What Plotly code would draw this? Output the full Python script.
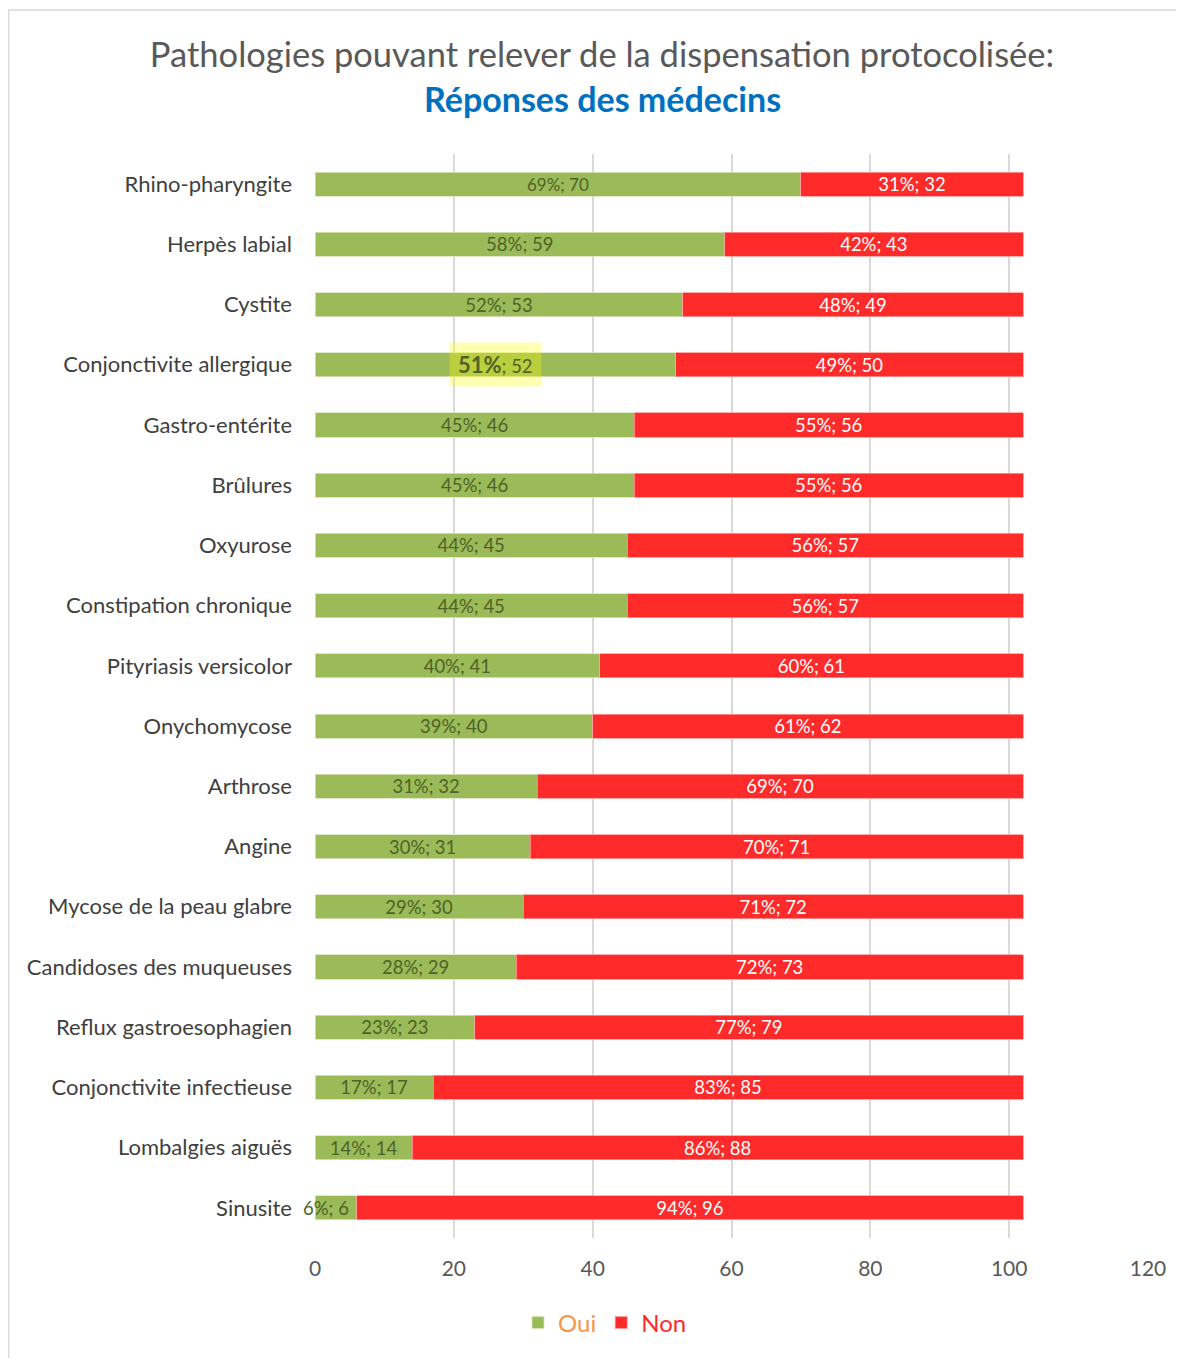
import plotly.graph_objects as go


# =========================
# DATA
# =========================
pathologies = [
    "Rhino-pharyngite", "Herpès labial", "Cystite", "Conjonctivite allergique",
    "Gastro-entérite", "Brûlures", "Oxyurose", "Constipation chronique",
    "Pityriasis versicolor", "Onychomycose", "Arthrose", "Angine",
    "Mycose de la peau glabre", "Candidoses des muqueuses",
    "Reflux gastroesophagien", "Conjonctivite infectieuse",
    "Lombalgies aiguës", "Sinusite",
]
oui_counts = [70, 59, 53, 52, 46, 46, 45, 45, 41, 40, 32, 31, 30, 29, 23, 17, 14, 6]
oui_pct = [69, 58, 52, 51, 45, 45, 44, 44, 40, 39, 31, 30, 29, 28, 23, 17, 14, 6]
non_counts = [32, 43, 49, 50, 56, 56, 57, 57, 61, 62, 70, 71, 72, 73, 79, 85, 88, 96]
non_pct = [31, 42, 48, 49, 55, 55, 56, 56, 60, 61, 69, 70, 71, 72, 77, 83, 86, 94]
x_ticks = [0, 20, 40, 60, 80, 100, 120]
highlight = "Conjonctivite allergique"
overflow = "Sinusite"

GREEN = "#9BBB59"
RED = "#FF2A2A"
LABEL_GREEN = "#4F6228"
FONT = "Lato"

# page body adds an 8px offset, so the layout is shifted back by 8px
L, R, T, B = 307, 44, 146, 128
PW = 1184 - L - R
PH = 1358 - T - B

oui_text = [f"{p}%; {v}" for p, v in zip(oui_pct, oui_counts)]
non_text = [f"{p}%; {v}" for p, v in zip(non_pct, non_counts)]
hi = pathologies.index(highlight)
ov = pathologies.index(overflow)
oui_text_bars = [t if i not in (hi, ov) else "" for i, t in enumerate(oui_text)]

# first green label is drawn a bit smaller in the original
oui_sizes = [17] + [18.5] * (len(pathologies) - 1)

fig = go.Figure()

fig.add_trace(go.Bar(
    y=pathologies, x=oui_counts, orientation="h",
    name="<span style='color:#F79646'>Oui</span>",
    marker=dict(color=GREEN, line=dict(color="#D8E4BC", width=0.8)),
    text=oui_text_bars, textposition="inside", insidetextanchor="middle",
    constraintext="none",
    textfont=dict(color=LABEL_GREEN, size=oui_sizes, family=FONT),
    width=0.4,
))
fig.add_trace(go.Bar(
    y=pathologies, x=non_counts, orientation="h",
    name="<span style='color:#FF2A2A'>Non</span>",
    marker=dict(color=RED, line=dict(color="#FF9A9A", width=0.8)),
    text=non_text, textposition="inside", insidetextanchor="middle",
    constraintext="none",
    textfont=dict(color="white", size=18.5, family=FONT),
    width=0.4,
))

# highlighted label
p, v = oui_text[hi].split("; ")
fig.add_annotation(
    x=oui_counts[hi] / 2, y=highlight, xref="x", yref="y",
    text=f"<b><span style='font-size:22px'>{p}</span></b>; {v}",
    showarrow=False, font=dict(color=LABEL_GREEN, size=18.5, family=FONT),
    bgcolor="rgba(255,255,0,0.3)", borderpad=8,
)

# label wider than its bar (spills to the left)
fig.add_annotation(
    x=oui_counts[ov] / 2, y=overflow, xref="x", yref="y", xshift=-10,
    text=oui_text[ov], showarrow=False,
    font=dict(color=LABEL_GREEN, size=18.5, family=FONT),
)

# second title line
fig.add_annotation(
    x=(594 - L) / PW, y=(1358 - B - 91) / PH,
    xref="paper", yref="paper", yanchor="middle", xanchor="center",
    text="<b>Réponses des médecins</b>", showarrow=False,
    font=dict(color="#0070C0", size=34, family=FONT),
)

# chart frame
fig.add_shape(type="rect", xref="paper", yref="paper",
              x0=(-L + 0.5) / PW, x1=1.2, y0=-0.2, y1=(1358 - B - 2) / PH,
              line=dict(color="#D9D9D9", width=1.5))

fig.update_layout(
    barmode="stack",
    width=1184, height=1358,
    paper_bgcolor="white", plot_bgcolor="white",
    margin=dict(l=L, r=R, t=T, b=B),
    font=dict(family=FONT, color="#595959"),
    title=dict(
        text="Pathologies pouvant relever de la dispensation protocolisée:",
        x=594 / 1184, xanchor="center", y=1 - 47 / 1358, yanchor="middle",
        font=dict(size=34.5, color="#595959", family=FONT),
    ),
    legend=dict(
        orientation="h", xref="container", yref="container",
        x=597 / 1184, xanchor="center", y=1 - 1315 / 1358, yanchor="middle",
        font=dict(size=24, family=FONT), traceorder="normal",
    ),
    showlegend=True,
)

fig.update_xaxes(
    range=[0, 120], tickvals=x_ticks, showgrid=True,
    gridcolor="#D9D9D9", gridwidth=1.5, zeroline=False,
    showline=False, ticklabelstandoff=16,
    tickfont=dict(size=21, color="#595959", family=FONT),
)
fig.update_yaxes(
    categoryorder="array", categoryarray=pathologies, autorange="reversed",
    showgrid=False, showline=False, ticklabelstandoff=22,
    tickfont=dict(size=22, color="#404040", family=FONT),
)

fig.write_html("out.html")
